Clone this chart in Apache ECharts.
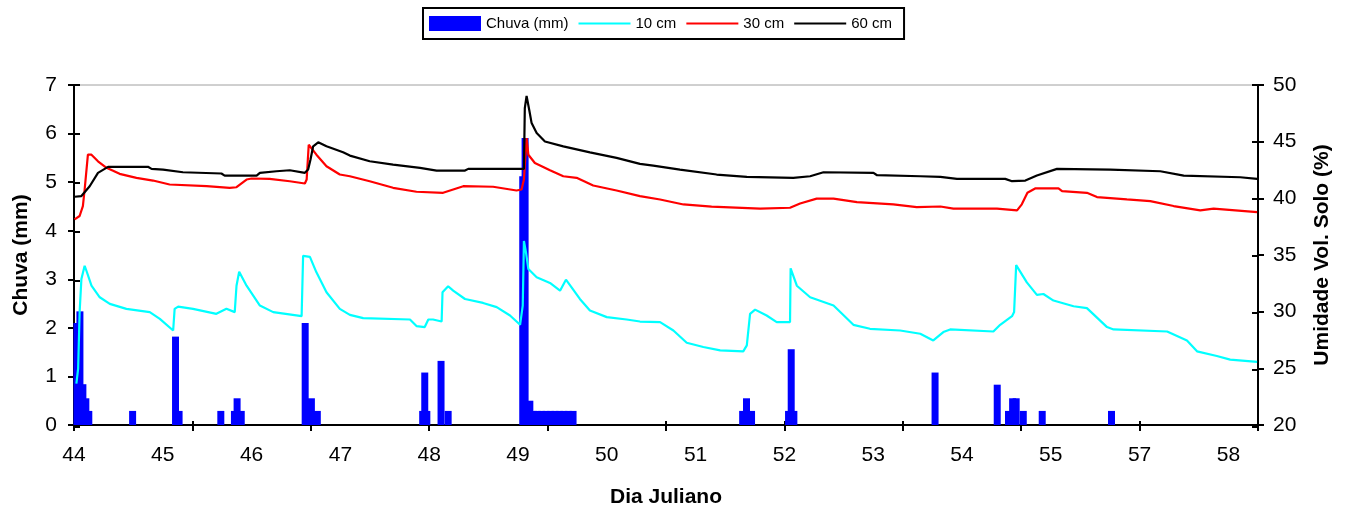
<!DOCTYPE html>
<html>
<head>
<meta charset="utf-8">
<script src="https://cdn.jsdelivr.net/npm/echarts@6/dist/echarts.min.js"></script>
<style>
html, body { margin: 0; padding: 0; background: #fff; }
#main { width: 1345px; height: 513px; }
</style>
</head>
<body>
<div id="main"></div>
<script>
// eixo X: posicao da amostra (0..400), rotulos com o dia juliano
var rotulosDia = ['44', '45', '46', '47', '48', '49', '50', '51', '52', '53', '54', '55', '57', '58'];
var posRotulos = [0, 30, 60, 90, 120, 150, 180, 210, 240, 270, 300, 330, 360, 390];
var posTicks = [0, 40, 80, 120, 160, 200, 240, 280, 320, 360, 400];

// chuva (mm) - [posicao, mm]
var chuva = [
    [1, 2.1], [2, 2.34], [3, 0.84], [4, 0.55], [5, 0.29],
    [19.8, 0.29],
    [34.3, 1.82], [35.5, 0.29],
    [49.6, 0.29],
    [54.2, 0.29], [55.1, 0.55], [56.5, 0.29],
    [78.1, 2.1], [80.2, 0.55], [82.2, 0.29],
    [117.8, 0.29], [118.5, 1.08], [119.2, 0.29],
    [124.0, 1.32], [126.4, 0.29],
    [151.6, 5.12], [152.4, 5.91], [154.0, 0.5],
    [155.2, 0.29], [156.5, 0.29], [158, 0.29], [159.5, 0.29], [161, 0.29],
    [162.5, 0.29], [164, 0.29], [165.5, 0.29], [167, 0.29], [168.6, 0.29],
    [225.9, 0.29], [227.2, 0.55], [228.9, 0.29],
    [241.4, 0.29], [242.3, 1.56], [243.2, 0.29],
    [290.9, 1.08],
    [311.9, 0.83],
    [315.7, 0.29], [317.1, 0.55], [318.3, 0.55], [320.7, 0.29],
    [327.1, 0.29],
    [350.5, 0.29]
];

// umidade volumetrica (%) - [posicao, %]
var umid10 = [
    [0.8, 23.66], [1.4, 24.98], [1.9, 29.96], [2.5, 32.88], [3.6, 34.05], [4.2, 33.61],
    [5.9, 32.29], [8.7, 31.27], [12.1, 30.69], [17.7, 30.25], [25.6, 29.96], [29.0, 29.37],
    [33.5, 28.34], [34.0, 30.25], [35.2, 30.45], [40.2, 30.25], [48.1, 29.81], [51.5, 30.25],
    [54.3, 29.96], [54.9, 32.29], [55.8, 33.52], [58.3, 32.29], [62.8, 30.54], [67.3, 29.96],
    [76.9, 29.6], [77.4, 34.93], [79.7, 34.84], [81.9, 33.47], [85.3, 31.71], [89.8, 30.25],
    [93.2, 29.72], [97.7, 29.43], [113.5, 29.31], [115.7, 28.73], [118.5, 28.64], [119.7, 29.31],
    [121.3, 29.31], [124.2, 29.13], [124.5, 31.71], [126.4, 32.24], [128.1, 31.85], [132.1, 31.12],
    [138.2, 30.77], [142.8, 30.4], [147.3, 29.66], [150.7, 28.84], [151.6, 30.54], [152.0, 36.24],
    [152.7, 35.22], [153.5, 33.76], [156.3, 33.03], [160.8, 32.53], [164.2, 31.85], [166.2, 32.82],
    [168.1, 32.15], [170.9, 31.12], [174.3, 30.1], [180.0, 29.52], [186.7, 29.31], [191.2, 29.13],
    [198.0, 29.08], [202.5, 28.34], [207.0, 27.26], [212.6, 26.88], [218.3, 26.59], [226.1, 26.5],
    [227.3, 27.02], [228.4, 29.81], [230.1, 30.18], [234.0, 29.66], [237.4, 29.08], [241.9, 29.08],
    [242.1, 33.82], [244.2, 32.29], [248.7, 31.27], [256.6, 30.54], [263.3, 28.84], [268.9, 28.49],
    [279.1, 28.34], [285.9, 28.05], [290.3, 27.46], [293.7, 28.2], [296.0, 28.43], [310.6, 28.25],
    [312.9, 28.84], [316.9, 29.6], [317.6, 29.96], [318.3, 34.11], [321.9, 32.59], [325.3, 31.48],
    [327.5, 31.56], [330.9, 30.98], [337.7, 30.48], [342.2, 30.31], [349.0, 28.64], [351.2, 28.43],
    [369.3, 28.25], [376.0, 27.46], [379.4, 26.5], [386.1, 26.09], [390.6, 25.77], [399.7, 25.57]
];
var umid30 = [
    [0.2, 38.15], [1.9, 38.44], [3.0, 39.32], [3.6, 40.78], [4.7, 43.85], [5.9, 43.85],
    [8.1, 43.27], [11.0, 42.69], [15.4, 42.16], [21.1, 41.81], [26.7, 41.57], [32.3, 41.22],
    [44.8, 41.07], [52.6, 40.93], [54.9, 40.98], [58.3, 41.66], [60.0, 41.75], [66.1, 41.72],
    [72.9, 41.51], [78.0, 41.31], [78.6, 41.66], [79.3, 44.73], [79.9, 44.88], [81.9, 43.85],
    [85.3, 42.83], [89.8, 42.1], [93.2, 41.95], [99.9, 41.51], [107.8, 40.93], [115.7, 40.58],
    [124.7, 40.49], [131.5, 41.07], [141.6, 41.02], [149.5, 40.69], [151.2, 40.78], [152.0, 41.66],
    [152.9, 45.32], [153.5, 43.85], [155.7, 43.12], [160.8, 42.48], [165.3, 41.95], [169.8, 41.81],
    [175.4, 41.13], [183.3, 40.69], [191.2, 40.19], [198.0, 39.9], [205.9, 39.46], [215.4, 39.26],
    [231.8, 39.09], [241.9, 39.17], [245.3, 39.55], [250.9, 39.97], [256.6, 39.97], [264.5, 39.67],
    [276.8, 39.46], [284.7, 39.22], [292.7, 39.28], [297.1, 39.09], [311.8, 39.09], [318.6, 38.94],
    [320.2, 39.47], [322.1, 40.49], [324.7, 40.87], [332.6, 40.87], [333.8, 40.63], [342.2, 40.49],
    [345.6, 40.11], [355.7, 39.9], [363.6, 39.76], [371.5, 39.32], [380.5, 38.94], [385.0, 39.09],
    [399.7, 38.79]
];
var umid60 = [
    [0.2, 40.14], [2.5, 40.2], [5.3, 41.07], [8.1, 42.25], [11.5, 42.78], [25.0, 42.78],
    [26.2, 42.6], [30.1, 42.54], [36.8, 42.3], [49.8, 42.19], [50.9, 42.0], [61.7, 42.0],
    [62.8, 42.25], [68.4, 42.39], [72.9, 42.48], [78.0, 42.25], [79.1, 42.54], [79.9, 43.42],
    [80.8, 44.59], [82.5, 44.94], [85.3, 44.59], [90.9, 44.06], [93.2, 43.77], [99.9, 43.27],
    [107.8, 42.98], [116.9, 42.69], [122.5, 42.45], [132.1, 42.45], [133.2, 42.6], [152.0, 42.6],
    [152.3, 47.96], [152.9, 49.04], [153.8, 47.8], [154.6, 46.64], [156.3, 45.76], [159.1, 45.02],
    [165.3, 44.59], [174.3, 44.06], [183.3, 43.57], [191.2, 43.04], [195.7, 42.89], [204.7, 42.54],
    [217.1, 42.1], [227.3, 41.9], [243.0, 41.81], [248.7, 41.95], [253.2, 42.3], [270.1, 42.25],
    [271.3, 42.04], [285.9, 41.95], [292.7, 41.9], [298.3, 41.72], [314.6, 41.72], [316.9, 41.51],
    [321.4, 41.57], [325.3, 42.01], [332.1, 42.6], [350.1, 42.54], [367.0, 42.39], [374.9, 42.01],
    [394.0, 41.86], [399.7, 41.72]
];

var fonte = '"Liberation Sans", Arial, sans-serif';
var preto = { color: '#000', width: 2 };
var semSimbolo = { opacity: 0 };

var myChart = echarts.init(document.getElementById('main'));

option = {
    animation: false,
    textStyle: { fontFamily: fonte },
    legend: {
        left: 423,
        top: 8,
        padding: [8, 12, 8, 6],
        borderColor: '#000',
        borderWidth: 2,
        itemWidth: 52,
        itemHeight: 15,
        itemGap: 9,
        textStyle: { fontSize: 15, color: '#000', fontFamily: fonte },
        data: [
            { name: 'Chuva (mm)', icon: 'rect' },
            { name: '10 cm', itemStyle: semSimbolo },
            { name: '30 cm', itemStyle: semSimbolo },
            { name: '60 cm', itemStyle: semSimbolo }
        ]
    },
    grid: [
        { left: 74, right: 87, top: 85, bottom: 86, show: true, borderColor: '#a0a0a0', borderWidth: 1 },
        { left: 74, right: 87, top: 85, bottom: 86 }
    ],
    xAxis: [
        {
            type: 'value', min: 0, max: 400,
            name: 'Dia Juliano', nameLocation: 'middle', nameGap: 62,
            nameTextStyle: { fontSize: 21, fontWeight: 'bold', color: '#000' },
            axisLine: { lineStyle: preto },
            axisTick: { show: true, customValues: posTicks, length: 6, lineStyle: preto },
            axisLabel: {
                customValues: posRotulos, fontSize: 21, color: '#000', margin: 20,
                formatter: function (v) { return rotulosDia[Math.round(v / 30)]; }
            },
            splitLine: { show: false }
        },
        {
            // ticks internos (cruzados)
            type: 'value', min: 0, max: 400, gridIndex: 1,
            axisLine: { show: false },
            axisTick: { show: true, inside: true, customValues: posTicks, length: 6, lineStyle: preto },
            axisLabel: { show: false },
            splitLine: { show: false }
        }
    ],
    yAxis: [
        {
            type: 'value', min: 0, max: 7, interval: 1, position: 'left',
            name: 'Chuva (mm)', nameLocation: 'middle', nameGap: 42, nameRotate: 90,
            nameTextStyle: { fontSize: 21, fontWeight: 'bold', color: '#000' },
            axisLine: { show: true, lineStyle: preto },
            axisTick: { show: true, length: 6, lineStyle: preto },
            axisLabel: { fontSize: 21, color: '#000', margin: 17 },
            splitLine: { show: false }
        },
        {
            type: 'value', min: 20, max: 50, interval: 5, position: 'right',
            name: 'Umidade Vol. Solo (%)', nameLocation: 'middle', nameGap: 54, nameRotate: 90,
            nameTextStyle: { fontSize: 21, fontWeight: 'bold', color: '#000' },
            axisLine: { show: true, lineStyle: preto },
            axisTick: { show: true, length: 6, lineStyle: preto },
            axisLabel: { fontSize: 21, color: '#000', margin: 15 },
            splitLine: { show: false }
        },
        {
            type: 'value', min: 0, max: 7, interval: 1, position: 'left', gridIndex: 1,
            axisLine: { show: false },
            axisTick: { show: true, inside: true, length: 6, lineStyle: preto },
            axisLabel: { show: false },
            splitLine: { show: false }
        },
        {
            type: 'value', min: 20, max: 50, interval: 5, position: 'right', gridIndex: 1,
            axisLine: { show: false },
            axisTick: { show: true, inside: true, length: 6, lineStyle: preto },
            axisLabel: { show: false },
            splitLine: { show: false }
        }
    ],
    series: [
        {
            name: 'Chuva (mm)', type: 'bar', xAxisIndex: 0, yAxisIndex: 0,
            barWidth: 7, itemStyle: { color: '#0000ff' },
            data: chuva
        },
        {
            name: '10 cm', type: 'line', xAxisIndex: 0, yAxisIndex: 1,
            symbol: 'none', color: '#00ffff', lineStyle: { color: '#00ffff', width: 2.2 },
            data: umid10
        },
        {
            name: '30 cm', type: 'line', xAxisIndex: 0, yAxisIndex: 1,
            symbol: 'none', color: '#ff0000', lineStyle: { color: '#ff0000', width: 2.2 },
            data: umid30
        },
        {
            name: '60 cm', type: 'line', xAxisIndex: 0, yAxisIndex: 1,
            symbol: 'none', color: '#000000', lineStyle: { color: '#000000', width: 2.2 },
            data: umid60
        }
    ]
};

myChart.setOption(option);
</script>
</body>
</html>
